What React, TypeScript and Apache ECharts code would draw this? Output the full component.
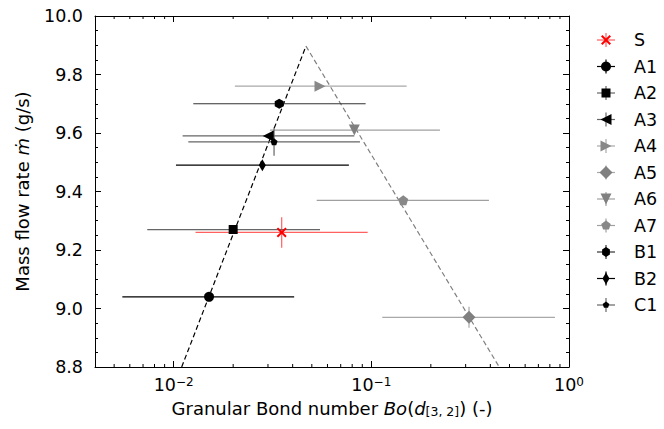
import React, { useEffect, useRef } from 'react';
import * as echarts from 'echarts';

// ---- data ----
const seriesNames = ['S', 'A1', 'A2', 'A3', 'A4', 'A5', 'A6', 'A7', 'B1', 'B2', 'C1'];
const bondNumber = [0.0352, 0.0151, 0.0200, 0.0301, 0.0550, 0.312, 0.0820, 0.145, 0.0342, 0.0281, 0.0322];
const massFlow = [9.26, 9.04, 9.27, 9.59, 9.76, 8.97, 9.61, 9.37, 9.70, 9.49, 9.57];
const bondLow = [0.0129, 0.0055, 0.00735, 0.0111, 0.0204, 0.1136, 0.0307, 0.0529, 0.01257, 0.01027, 0.01186];
const bondHigh = [0.0958, 0.0407, 0.0550, 0.0820, 0.1509, 0.849, 0.2224, 0.3935, 0.0936, 0.0770, 0.0876];
const massFlowErr = [0.052, 0, 0, 0, 0, 0.036, 0, 0, 0, 0, 0.048];

const risingTrend = [[0.01098, 8.8], [0.0467, 9.897]];
const fallingTrend = [[0.0467, 9.897], [0.4436, 8.8]];

const xMin = 0.004;
const xMax = 1;
const yMin = 8.8;
const yMax = 10.0;
const yTickStep = 0.2;
const xMinorTicks: number[] = [];
for (const decade of [0.001, 0.01, 0.1]) {
  for (let m = 2; m <= 9; m++) {
    const v = m * decade;
    if (v > xMin && v < xMax) xMinorTicks.push(v);
  }
}

// ---- styles ----
const FONT = 'DejaVu Sans';
const TICK_FS = 17.5;
const NAME_FS = 18;
const unitShapes: Record<string, number[][]> = {
  x: [[-1, -0.72], [-0.72, -1], [0, -0.28], [0.72, -1], [1, -0.72], [0.28, 0], [1, 0.72], [0.72, 1], [0, 0.28], [-0.72, 1], [-1, 0.72], [-0.28, 0]],
  square: [[-1, -1], [1, -1], [1, 1], [-1, 1]],
  triLeft: [[-1, 0], [1, -1], [1, 1]],
  triRight: [[1, 0], [-1, -1], [-1, 1]],
  triDown: [[0, 1], [-1, -1], [1, -1]],
  diamond: [[0, -1], [1, 0], [0, 1], [-1, 0]],
  pentagon: [[0, -1], [0.951, -0.309], [0.588, 0.809], [-0.588, 0.809], [-0.951, -0.309]],
  hexagon: [[0, -1], [0.866, -0.5], [0.866, 0.5], [0, 1], [-0.866, 0.5], [-0.866, -0.5]],
};
const markerKind = ['x', 'circle', 'square', 'triLeft', 'triRight', 'diamond', 'triDown', 'pentagon', 'hexagon', 'diamond', 'pentagon'];
const markerW = [10, 10, 9, 11, 11, 13, 11, 10, 9, 7, 7];
const markerH = [10, 10, 9, 11, 11, 13, 11, 10, 10, 12, 7];
const markerColor = ['#ff0000', '#000000', '#000000', '#000000', '#888888', '#808080', '#808080', '#888888', '#000000', '#000000', '#000000'];
const barColor = ['#ff6060', '#000000', '#666666', '#666666', '#a8a8a8', '#a8a8a8', '#a0a0a0', '#a0a0a0', '#333333', '#000000', '#666666'];

const pathSymbol = (kind: string) => {
  if (kind === 'circle') return 'circle';
  const pts = unitShapes[kind];
  return 'path://M' + pts.map((p) => p[0] + ',' + p[1]).join(' L') + ' Z';
};

const supFormatter = (v: number) => {
  const lg = Math.log10(v);
  const e = Math.round(lg);
  if (Math.abs(lg - e) > 1e-6) return '';
  const es = e < 0 ? '\u2212' + Math.abs(e) : String(e);
  return '{b|10}{sup|' + es + '}';
};

function buildOption() {
  const errData = seriesNames.map((_, i) => [
    bondNumber[i], massFlow[i], bondLow[i], bondHigh[i],
    massFlow[i] - massFlowErr[i], massFlow[i] + massFlowErr[i], i,
  ]);

  const axisLineStyle = { show: true, lineStyle: { color: '#000', width: 1 } };

  const scatterSeries = seriesNames.map((name, i) => ({
    type: 'scatter',
    name,
    data: [[bondNumber[i], massFlow[i]]],
    symbol: pathSymbol(markerKind[i]),
    symbolSize: [markerW[i], markerH[i]],
    itemStyle: { color: markerColor[i], opacity: 1 },
    z: 5,
    silent: true,
  }));

  // legend (drawn as graphic)
  const legendChildren: any[] = [];
  const lx = 606;
  const ly0 = 40;
  const lstep = 26.5;
  seriesNames.forEach((name, i) => {
    const cy = ly0 + i * lstep;
    legendChildren.push({ type: 'line', shape: { x1: lx - 9, y1: cy, x2: lx + 9, y2: cy }, style: { stroke: barColor[i], lineWidth: 1.2 } });
    legendChildren.push({ type: 'line', shape: { x1: lx, y1: cy - 7, x2: lx, y2: cy + 7 }, style: { stroke: barColor[i], lineWidth: 1.2 } });
    if (markerKind[i] === 'circle') {
      legendChildren.push({ type: 'circle', shape: { cx: lx, cy, r: markerW[i] / 2 }, style: { fill: markerColor[i] } });
    } else {
      const pts = unitShapes[markerKind[i]].map((p) => [lx + (p[0] * markerW[i]) / 2, cy + (p[1] * markerH[i]) / 2]);
      legendChildren.push({ type: 'polygon', shape: { points: pts }, style: { fill: markerColor[i] } });
    }
    legendChildren.push({
      type: 'text', x: 634, y: cy,
      style: { text: name, fill: '#000', font: TICK_FS + 'px "' + FONT + '"', textVerticalAlign: 'middle', textAlign: 'left' },
    });
  });

  return {
    animation: false,
    backgroundColor: '#ffffff',
    textStyle: { fontFamily: FONT },
    grid: { left: 95, right: 95, top: 16, bottom: 62, containLabel: false },
    xAxis: [
      {
        type: 'log', logBase: 10, min: xMin, max: xMax, position: 'bottom',
        axisLine: axisLineStyle,
        axisTick: { show: true, inside: true, length: 6, lineStyle: { color: '#000', width: 1 } },
        axisLabel: {
          formatter: supFormatter, margin: 9, color: '#000', showMinLabel: false,
          rich: {
            b: { fontSize: TICK_FS, fontFamily: FONT, color: '#000' },
            sup: { fontSize: 12, fontFamily: FONT, color: '#000', verticalAlign: 'top', padding: [0, 0, 6, 0] },
          },
        },
        splitLine: { show: false },
        name: 'Granular Bond number {i|Bo}({i|d}{sub|[3, 2]}) (-)',
        nameLocation: 'middle', nameGap: 32,
        nameTextStyle: {
          fontSize: NAME_FS, fontFamily: FONT, color: '#000',
          rich: {
            i: { fontSize: NAME_FS, fontFamily: FONT, fontStyle: 'italic', color: '#000' },
            sub: { fontSize: 12.5, fontFamily: FONT, color: '#000', verticalAlign: 'bottom', padding: [6, 0, 0, 0] },
          },
        },
      },
      {
        type: 'log', logBase: 10, min: xMin, max: xMax, position: 'top',
        axisLine: axisLineStyle,
        axisTick: { show: true, inside: true, length: 6, lineStyle: { color: '#000', width: 1 } },
        axisLabel: { show: false },
        splitLine: { show: false },
      },
    ],
    yAxis: [
      {
        type: 'value', min: yMin, max: yMax, interval: yTickStep, position: 'left',
        axisLine: axisLineStyle,
        axisTick: { show: true, inside: true, length: 6, lineStyle: { color: '#000', width: 1 } },
        minorTick: { show: true, splitNumber: 4, length: 3, lineStyle: { color: '#000', width: 1 } },
        axisLabel: { formatter: (v: number) => v.toFixed(1), fontSize: TICK_FS, fontFamily: FONT, color: '#000', margin: 12 },
        splitLine: { show: false },
        minorSplitLine: { show: false },
        name: 'Mass flow rate {i|\u1E41} (g/s)',
        nameLocation: 'middle', nameGap: 64, nameRotate: 90,
        nameTextStyle: {
          fontSize: NAME_FS, fontFamily: FONT, color: '#000',
          rich: { i: { fontSize: NAME_FS, fontFamily: FONT, fontStyle: 'italic', color: '#000' } },
        },
      },
      {
        type: 'value', min: yMin, max: yMax, interval: yTickStep, position: 'right',
        axisLine: axisLineStyle,
        axisTick: { show: true, inside: true, length: 6, lineStyle: { color: '#000', width: 1 } },
        minorTick: { show: true, splitNumber: 4, length: 3, lineStyle: { color: '#000', width: 1 } },
        axisLabel: { show: false },
        splitLine: { show: false },
        minorSplitLine: { show: false },
      },
    ],
    series: [
      {
        type: 'custom', name: 'xMinorTicks', silent: true, z: 1,
        data: xMinorTicks.map((v) => [v, yMin]),
        encode: { x: 0, y: 1 },
        renderItem: (params: any, api: any) => {
          const v = api.value(0);
          const pb = api.coord([v, yMin]);
          const pt = api.coord([v, yMax]);
          return {
            type: 'group',
            children: [
              { type: 'line', shape: { x1: pb[0], y1: pb[1], x2: pb[0], y2: pb[1] - 3 }, style: { stroke: '#000', lineWidth: 1 } },
              { type: 'line', shape: { x1: pt[0], y1: pt[1], x2: pt[0], y2: pt[1] + 3 }, style: { stroke: '#000', lineWidth: 1 } },
            ],
          };
        },
      },
      {
        type: 'line', name: 'rise', data: risingTrend, symbol: 'none', silent: true, z: 2,
        lineStyle: { color: '#000', width: 1.2, type: [5, 3] },
      },
      {
        type: 'line', name: 'fall', data: fallingTrend, symbol: 'none', silent: true, z: 2,
        lineStyle: { color: '#808080', width: 1.2, type: [5, 3] },
      },
      {
        type: 'custom', name: 'errorbars', silent: true, z: 3,
        data: errData,
        encode: { x: [0, 2, 3], y: [1, 4, 5] },
        renderItem: (params: any, api: any) => {
          const x = api.value(0);
          const y = api.value(1);
          const lo = api.value(2);
          const hi = api.value(3);
          const yl = api.value(4);
          const yh = api.value(5);
          const idx = api.value(6);
          const p0 = api.coord([lo, y]);
          const p1 = api.coord([hi, y]);
          const children: any[] = [
            { type: 'line', shape: { x1: p0[0], y1: p0[1], x2: p1[0], y2: p1[1] }, style: { stroke: barColor[idx], lineWidth: 1.2 } },
          ];
          if (yh > yl) {
            const q0 = api.coord([x, yl]);
            const q1 = api.coord([x, yh]);
            children.push({ type: 'line', shape: { x1: q0[0], y1: q0[1], x2: q1[0], y2: q1[1] }, style: { stroke: barColor[idx], lineWidth: 1.2 } });
          }
          return { type: 'group', children };
        },
      },
      ...scatterSeries,
    ],
    graphic: [{ type: 'group', children: legendChildren }],
  };
}

export default function App() {
  const ref = useRef<HTMLDivElement>(null);
  useEffect(() => {
    if (!ref.current) return;
    const chart = echarts.init(ref.current, null, { renderer: 'svg' });
    chart.setOption(buildOption() as any);
    return () => chart.dispose();
  }, []);
  return <div ref={ref} style={{ position: 'fixed', left: 0, top: 0, width: 664, height: 429 }} />;
}
